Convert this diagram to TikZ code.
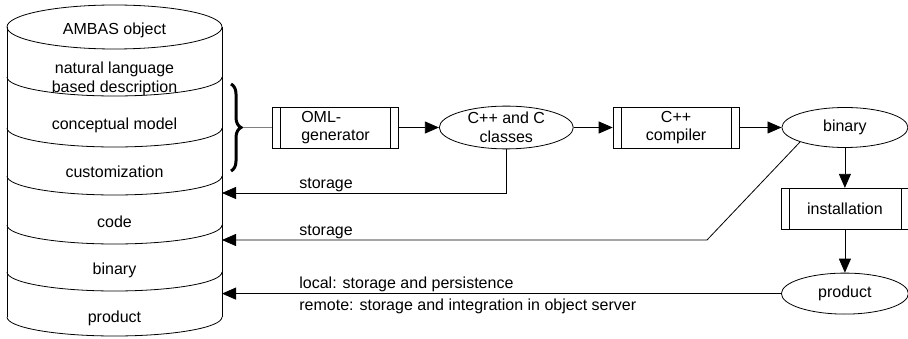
\documentclass[tikz,border=0pt]{standalone}
\usepackage{fontspec}
\setmainfont{Liberation Sans}
\usepackage{tikz}
\usetikzlibrary{arrows.meta,shapes.geometric,decorations.pathreplacing}
\usetikzlibrary{positioning}

\begin{document}
\begin{tikzpicture}[x=1pt,y=-1pt,>={Triangle[length=14pt,width=12pt]},line width=0.8pt,
  txt/.style={font=\fontsize{16}{18.5}\selectfont, align=center, inner sep=1pt},
  proc/.style={txt, draw, rectangle, minimum width=126pt, minimum height=41pt, inner sep=0pt,
    path picture={\draw[line width=0.5pt]
      ([xshift=8pt]path picture bounding box.north west) -- ([xshift=8pt]path picture bounding box.south west)
      ([xshift=-8pt]path picture bounding box.north east) -- ([xshift=-8pt]path picture bounding box.south east);}},
  oval/.style={txt, draw, ellipse, minimum width=126pt, minimum height=40pt, inner sep=0pt}]

\useasboundingbox (0,0) rectangle (908,339);

% the AMBAS object store
\draw (114.5,27) ellipse [x radius=107.5, y radius=22];
\draw (7,27) -- (7,317) (222,27) -- (222,317);
\foreach \ly in {77,128,176,225,272,317}
  \draw (7,\ly) arc[start angle=180, end angle=0, x radius=107.5, y radius=19];

\node[txt] (head) at (114.5,30) {AMBAS object};
\node[txt] (nld)  at (114.5,79) {natural language\\based description};
\node[txt] (cm)   at (114.5,125) {conceptual model};
\node[txt] (cust) at (114.5,172) {customization};
\node[txt] (code) at (114.5,222) {code};
\node[txt] (bin)  at (114.5,270) {binary};
\node[txt] (prd)  at (114.5,318) {product};

\coordinate (inA) at (222,193);
\coordinate (inB) at (222,240);

\draw[line width=3pt, decorate, decoration={brace, amplitude=10pt}] (231,84) -- (231,171);
\coordinate (tip) at (243,127.5);

% tool chain
\node[proc, align=left] (oml) at (335.5,127.5) {OML-\\generator};
\node[oval, minimum width=134pt] (cls) [right=40pt of oml] {C++ and C\\classes};
\node[proc] (comp) [right=39pt of cls] {C++\\compiler};
\node[oval] (binary) [right=42pt of comp] {binary};
\node[proc, minimum width=128pt] (inst) [below=40pt of binary] {installation};
\node[oval, minimum width=127pt, minimum height=41pt] (prod) [below=43pt of inst] {product};

\coordinate (inC) at (prod.west -| inA);

\draw[gray, line width=0.5pt] (tip) -- (oml);
\draw[->] (oml) -- (cls);
\draw[->] (cls) -- (comp);
\draw[->] (comp) -- (binary);
\draw[->] (binary) -- (inst);
\draw[->] (inst) -- (prod);

\draw[<-] (inA) node[txt, anchor=south west, xshift=76pt] {storage} -| (cls);
\draw[<-] (inB) node[txt, anchor=south west, xshift=76pt] {storage} -- ++(485,0) -- (binary.south west);
\draw[<-] (inC) node[txt, anchor=south west, xshift=76pt] {local: storage and persistence}
  node[txt, anchor=north west, xshift=76pt, yshift=-4pt] {remote: storage and integration in object server} -- (prod);

\end{tikzpicture}
\end{document}
